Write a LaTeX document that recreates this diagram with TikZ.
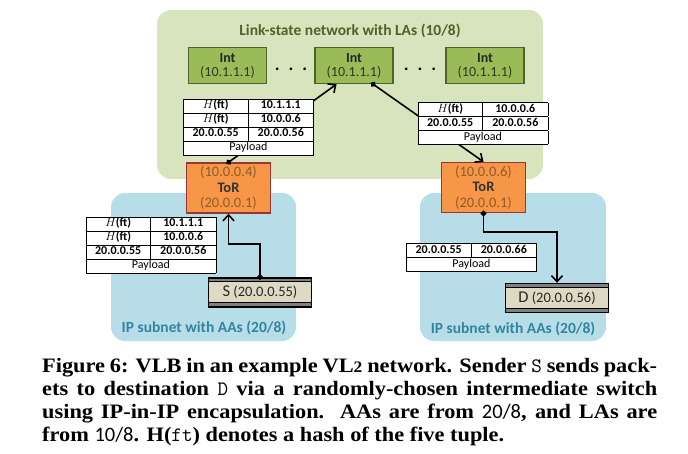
\documentclass[tikz,border=0pt]{standalone}
\usepackage{fontspec}
\usepackage{array}
\setmainfont{Carlito}
\newfontfamily\capfont[FakeStretch=1.09]{Liberation Serif}
\usetikzlibrary{arrows.meta}
\usetikzlibrary{calc}
\usetikzlibrary{positioning}

\definecolor{lsfill}{HTML}{D7E4BD}
\definecolor{lstext}{HTML}{4F6228}
\definecolor{ipfill}{HTML}{B7DEE8}
\definecolor{iptext}{HTML}{31859C}
\definecolor{intfill}{HTML}{9BBB59}
\definecolor{intline}{HTML}{4F6228}
\definecolor{torfill}{HTML}{F79646}
\definecolor{torline}{HTML}{953735}
\definecolor{tortext}{HTML}{8E5B2E}
\definecolor{hostfill}{HTML}{DDD9C3}

\newcolumntype{C}[1]{>{\centering\arraybackslash}p{#1}}
\setlength{\tabcolsep}{0pt}
\setlength{\arrayrulewidth}{0.6pt}
\renewcommand{\arraystretch}{1.08}
\newcommand{\hft}{$H$\textbf{(ft)}}

\tikzset{
  region/.style={rounded corners=14pt},
  intbox/.style={draw=intline, line width=1.3pt, fill=intfill, minimum width=78pt, minimum height=36pt,
    inner sep=0pt, align=center, text=intline!60!black, font=\fontsize{14}{14}\selectfont},
  torbox/.style={draw=torline, line width=1.4pt, fill=torfill, minimum width=84pt, minimum height=50pt,
    inner sep=0pt, align=center, text=tortext, font=\fontsize{14.5}{15.5}\selectfont},
  hostbox/.style={draw=black, line width=1.4pt, fill=hostfill, minimum width=103pt, minimum height=29pt,
    inner sep=0pt, text=black!85, font=\fontsize{14.5}{15}\selectfont,
    path picture={
      \fill[black!50] (path picture bounding box.north west) rectangle ([yshift=-4pt]path picture bounding box.north east);
      \fill[black!50] (path picture bounding box.south west) rectangle ([yshift=4pt]path picture bounding box.south east);
      \draw[line width=1pt] ([yshift=-4pt]path picture bounding box.north west) -- ([yshift=-4pt]path picture bounding box.north east);
      \draw[line width=1pt] ([yshift=4pt]path picture bounding box.south west) -- ([yshift=4pt]path picture bounding box.south east);
    }},
  pkt/.style={fill=white, inner sep=0pt, font=\fontsize{12}{12.4}\selectfont},
  link/.style={line width=1.6pt, shorten <=-2.5pt, {Circle[length=5.5pt]}-{Straight Barb[length=6pt,width=11pt]}},
  capline/.style={anchor=base west, inner sep=0pt, font=\capfont\bfseries\fontsize{20.5}{23}\selectfont},
}

\begin{document}
\begin{tikzpicture}[x=1pt, y=-1pt]
\useasboundingbox (0,0) rectangle (688,454);

\fill[region, lsfill] (157,10) rectangle (543,179);
\fill[region, ipfill] (111,193) rectangle (296,341);
\fill[region, ipfill] (420,193) rectangle (606,341);

\node[text=lstext, font=\bfseries\fontsize{15.5}{17}\selectfont] (lsTitle) at (350,31) {Link-state network with LAs (10/8)};
\node[text=iptext, font=\bfseries\fontsize{15.5}{17}\selectfont] (ipTitleL) at (204,328) {IP subnet with AAs (20/8)};
\node[text=iptext, font=\bfseries\fontsize{15.5}{17}\selectfont] (ipTitleR) at (513,329) {IP subnet with AAs (20/8)};

\node[intbox] (IntA) at (227.5,65.5) {{\bfseries\color{black!85}Int}\\(10.1.1.1)};
\node[intbox] (IntB) at (354,65.5) {{\bfseries\color{black!85}Int}\\(10.1.1.1)};
\node[intbox] (IntC) at (485,65.5) {{\bfseries\color{black!85}Int}\\(10.1.1.1)};
\node[anchor=base, font=\bfseries\fontsize{18}{18}\selectfont] (dotsA) at (291,71) {.\,\,\,.\,\,\,.};
\node[anchor=base, font=\bfseries\fontsize{18}{18}\selectfont] (dotsB) at (420,71) {.\,\,\,.\,\,\,.};

\node[torbox] (TorL) at (228.5,188) {(10.0.0.4)\\{\bfseries\color{black!80}ToR}\\(20.0.0.1)};
\node[torbox] (TorR) at (483.5,187.5) {(10.0.0.6)\\{\bfseries\color{black!80}ToR}\\(20.0.0.1)};

\node[hostbox] (Src) at (260,292.5) {{\fontsize{16.5}{16}\selectfont S} (20.0.0.55)};
\node[hostbox] (Dst) at (557,298) {{\fontsize{16.5}{16}\selectfont D} (20.0.0.56)};

\draw[link] (TorL.north) -- ($(IntB.south west)!0.28!(IntB.south east)$);
\draw[link] ($(IntB.south west)!0.74!(IntB.south east)$) -- (TorR.north);
\draw[link] (Src.north) -- ++(0,-33) -| (TorL.south);
\draw[link] (TorR.south) -- ++(0,19) -| (Dst.north);

\node[pkt] (pktUp) at (248.5,127) {\begin{tabular}{|C{64pt}|C{65pt}|}\hline
\hft & \bfseries 10.1.1.1\\\hline
\hft & \bfseries 10.0.0.6\\\hline
\bfseries 20.0.0.55 & \bfseries 20.0.0.56\\\hline
\multicolumn{2}{|c|}{Payload}\\\hline
\end{tabular}};
\node[pkt] (pktDown) at (483,123.5) {\begin{tabular}{|C{64pt}|C{65pt}|}\hline
\hft & \bfseries 10.0.0.6\\\hline
\bfseries 20.0.0.55 & \bfseries 20.0.0.56\\\hline
\multicolumn{2}{|c|}{Payload}\\\hline
\end{tabular}};
\node[pkt] (pktSrc) at (151,245) {\begin{tabular}{|C{64pt}|C{65pt}|}\hline
\hft & \bfseries 10.1.1.1\\\hline
\hft & \bfseries 10.0.0.6\\\hline
\bfseries 20.0.0.55 & \bfseries 20.0.0.56\\\hline
\multicolumn{2}{|c|}{Payload}\\\hline
\end{tabular}};
\node[pkt] (pktDst) at (471.5,257.5) {\begin{tabular}{|C{64pt}|C{65pt}|}\hline
\bfseries 20.0.0.55 & \bfseries 20.0.0.66\\\hline
\multicolumn{2}{|c|}{Payload}\\\hline
\end{tabular}};

\node[capline] (capA) at (42,372) {\makebox[615pt][s]{Figure 6: VLB in an example VL{\fontsize{16}{16}\selectfont 2} network. Sender {\normalfont\ttfamily S} sends pack-}};
\node[capline] (capB) at (42,395) {\makebox[615pt][s]{ets to destination {\normalfont\ttfamily D} via a randomly-chosen intermediate switch}};
\node[capline] (capC) at (42,418) {\makebox[615pt][s]{using IP-in-IP encapsulation.\ \ AAs are from {\normalfont 20/8}, and LAs are}};
\node[capline] (capD) at (42,441) {from {\normalfont 10/8}. H({\normalfont\ttfamily ft}) denotes a hash of the five tuple.};
\end{tikzpicture}
\end{document}
